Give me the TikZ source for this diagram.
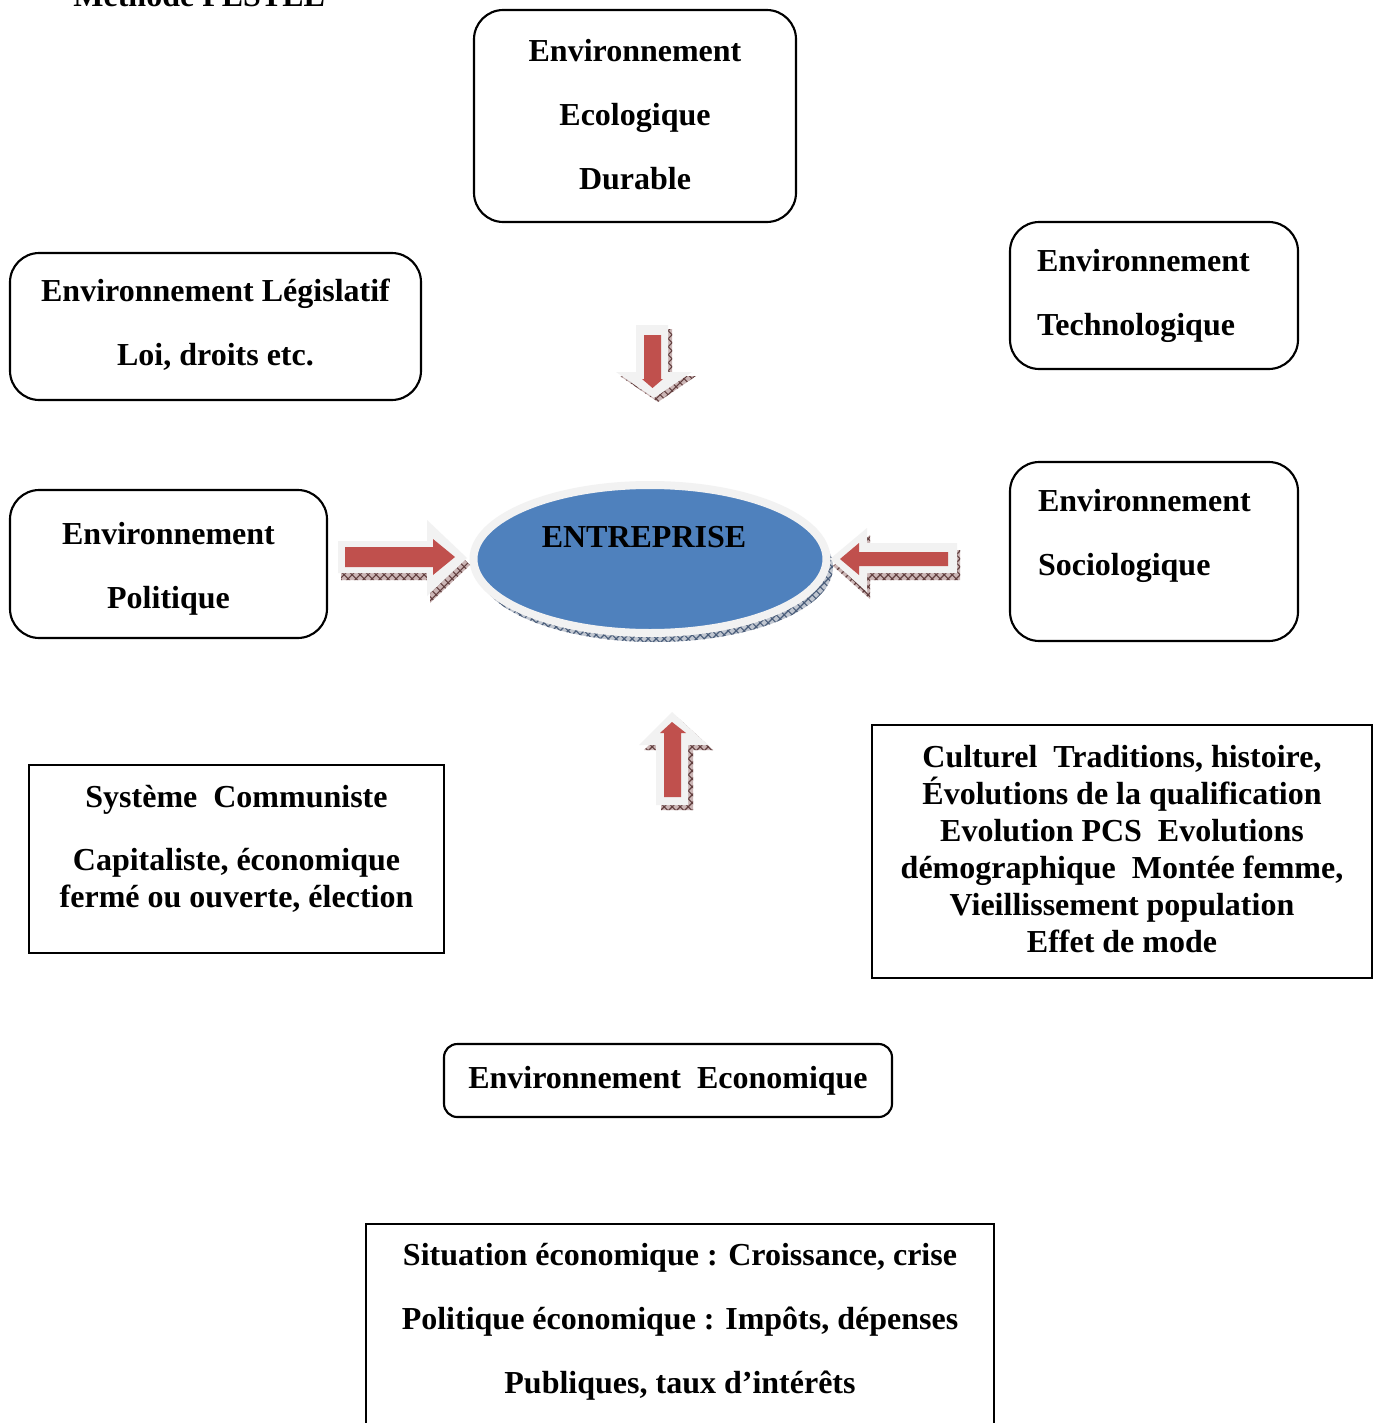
\documentclass[tikz,border=0pt]{standalone}
\usepackage{fontspec}
\setmainfont{Liberation Serif}
\usetikzlibrary{patterns,shapes.geometric}
\definecolor{arrowred}{HTML}{C0504D}
\definecolor{ringgray}{HTML}{F2F2F2}
\definecolor{entblue}{HTML}{4F81BD}
\definecolor{hatchbrown}{HTML}{8C5A5A}
\definecolor{hatchblue}{HTML}{4A5D7A}
\newcommand{\pxu}{0.375pt}
\tikzset{
  rbox/.style={draw, rounded corners=11pt, line width=0.8pt, inner sep=0pt,
    font=\fontsize{12}{24}\selectfont\bfseries, align=center},
  sbox/.style={draw, line width=0.8pt, inner sep=0pt,
    font=\fontsize{12}{13.875}\selectfont\bfseries, align=center},
  arrowout/.style={fill=ringgray},
  arrowin/.style={fill=arrowred},
  arrowshadow/.style={fill=hatchbrown!45!white, postaction={pattern=crosshatch, pattern color=hatchbrown!70!black}},
}
\begin{document}
\begin{tikzpicture}[x=\pxu, y=-\pxu]
        \useasboundingbox (0,0) rectangle (1378,1423);
        \fill[white] (0,0) rectangle (1378,1423);
        \node[anchor=base west, font=\fontsize{12}{14}\selectfont\bfseries] (titre) at (64,7) {Méthode PESTEL};
        % boites autour de l'entreprise
        \node[rbox, minimum width=322*\pxu, minimum height=212*\pxu, text depth=1.5pt] (ecolo) at (635,116) {Environnement\\Ecologique\\Durable};
        \node[rbox, minimum width=411*\pxu, minimum height=147*\pxu, text depth=3.2pt] (legis) at (215.5,326.5) {Environnement Législatif\\Loi, droits etc.};
        \node[rbox, minimum width=288*\pxu, minimum height=147*\pxu, text width=234*\pxu, inner xsep=27*\pxu, align=left] (techno) at (1154,295.5) {Environnement\\Technologique};
        \node[rbox, minimum width=317*\pxu, minimum height=148*\pxu] (polit) at (168.5,564) {\mbox{}\\[-12pt]Environnement\\Politique};
        \node[rbox, minimum width=288*\pxu, minimum height=179*\pxu, text width=232*\pxu, inner xsep=28*\pxu, align=left] (socio) at (1154,551.5) {Environnement\\Sociologique\\[-9.75pt]\mbox{}};
        \node[sbox, minimum width=415*\pxu, minimum height=188*\pxu, text depth=9.4pt] (systeme) at (236.5,859) {Système\ \ Communiste\\[9.8pt]Capitaliste, économique\\fermé ou ouverte, élection};
        \node[sbox, minimum width=500*\pxu, minimum height=253*\pxu, text depth=1.9pt] (culturel) at (1122,851.5) {Culturel\ \ Traditions, histoire,\\Évolutions de la qualification\\Evolution PCS\ \ Evolutions\\démographique\ \ Montée femme,\\Vieillissement population\\Effet de mode};
        \node[rbox, rounded corners=5pt, minimum width=448*\pxu, minimum height=73*\pxu] (econ) at (668,1080.5) {Environnement\ \ Economique};
        \node[sbox, font=\fontsize{12}{24}\selectfont\bfseries, minimum width=628*\pxu, minimum height=260*\pxu, text depth=27pt] (situation) at (680,1354) {Situation économique : Croissance, crise\\Politique économique : Impôts, dépenses\\Publiques, taux d’intérêts};
        % entreprise
        \fill[fill=hatchblue!35!white, postaction={pattern=crosshatch, pattern color=hatchblue}] (655,567) ellipse [x radius=178, y radius=75];
        \node[ellipse, fill=entblue, draw=ringgray, line width=3pt, minimum width=353*\pxu, minimum height=148*\pxu, inner sep=0pt,
              font=\fontsize{12}{14}\selectfont\bfseries, text depth=16.5pt] (entreprise) at (650,559) {ENTREPRISE\kern4.5pt};
        % fleche du haut
        \fill[arrowshadow, shift={(4,4)}] (636,325)--(668,325)--(668,372)--(692,372)--(654,398)--(616,372)--(636,372)--cycle;
        \fill[arrowout] (636,325)--(668,325)--(668,372)--(692,372)--(654,398)--(616,372)--(636,372)--cycle;
        \fill[arrowin] (644,335)--(661,335)--(661,379)--(663,379)--(652.5,388)--(642,379)--(644,379)--cycle;
        % fleche du bas
        \fill[arrowshadow, shift={(5,5)}] (656,805)--(688,805)--(688,745)--(708,745)--(672,712)--(639,745)--(656,745)--cycle;
        \fill[arrowout] (656,805)--(688,805)--(688,745)--(708,745)--(672,712)--(639,745)--(656,745)--cycle;
        \fill[arrowin] (664,797)--(681,797)--(681,733)--(686,733)--(672,722)--(660,733)--(664,733)--cycle;
        % fleche de gauche
        \fill[arrowshadow, shift={(3,7)}] (338,541)--(427,541)--(427,520)--(467,558)--(427,596)--(427,573)--(338,573)--cycle;
        \fill[arrowout] (338,541)--(427,541)--(427,520)--(467,558)--(427,596)--(427,573)--(338,573)--cycle;
        \fill[arrowin] (345,547)--(433,547)--(433,539)--(455,557)--(433,575)--(433,567)--(345,567)--cycle;
        % fleche de droite
        \fill[arrowshadow, shift={(3,7)}] (957,543)--(867,543)--(867,528)--(830,559)--(867,592)--(867,573)--(957,573)--cycle;
        \fill[arrowout] (957,543)--(867,543)--(867,528)--(830,559)--(867,592)--(867,573)--(957,573)--cycle;
        \fill[arrowin] (948,552)--(859,552)--(859,543)--(840,559)--(859,575)--(859,566)--(948,566)--cycle;
\end{tikzpicture}
\end{document}
